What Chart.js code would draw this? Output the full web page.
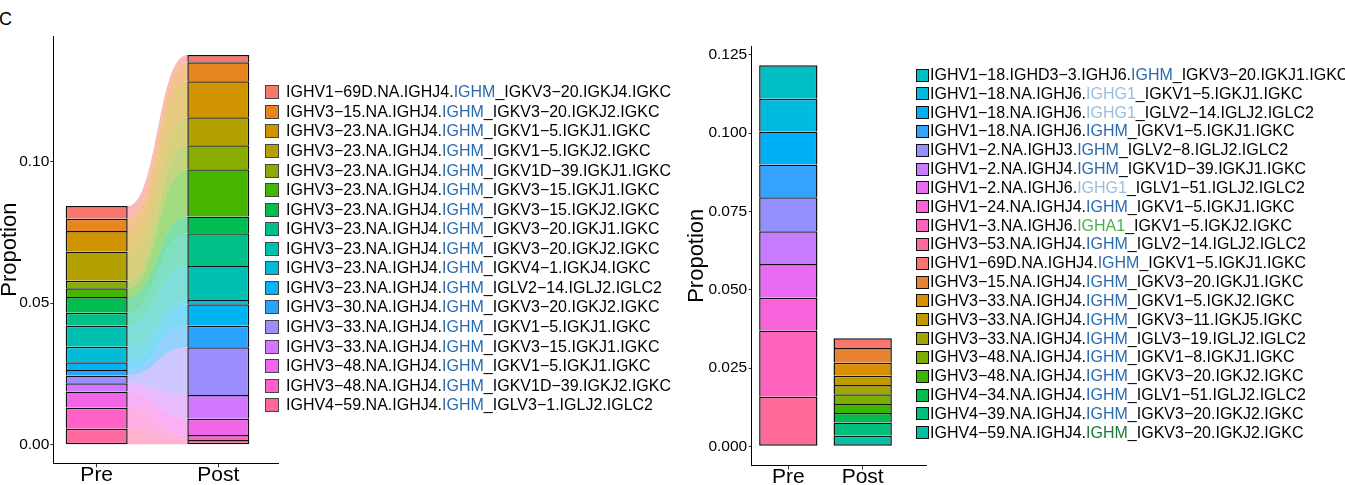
<!DOCTYPE html>
<html>
<head>
<meta charset="utf-8">
<script src="https://cdn.jsdelivr.net/npm/chart.js@4/dist/chart.umd.min.js"></script>
<style>
  html, body { margin: 0; padding: 0; background: #fff; }
  body { width: 1345px; height: 485px; position: relative; overflow: hidden;
         font-family: "Liberation Sans", Arial, sans-serif; }
  canvas { position: absolute; top: 0; }
  .lg { position: absolute; font-size: 16px; line-height: 18px; white-space: nowrap; color: #000; }
  .bx { position: absolute; box-sizing: border-box; }
  #panel { position: absolute; left: -1px; top: 8px; font-size: 18px; line-height: 22px; }
</style>
</head>
<body>
<div id="panel">C</div>
<canvas id="left" width="282" height="485" style="left:0px"></canvas>
<canvas id="right" width="250" height="485" style="left:680px"></canvas>
<div id="legends"></div>
<script>
// ---------------- DATA ----------------
const categories = ['Pre', 'Post'];

const leftLabels = [
  'IGHV1−69D.NA.IGHJ4.IGHM_IGKV3−20.IGKJ4.IGKC',
  'IGHV3−15.NA.IGHJ4.IGHM_IGKV3−20.IGKJ2.IGKC',
  'IGHV3−23.NA.IGHJ4.IGHM_IGKV1−5.IGKJ1.IGKC',
  'IGHV3−23.NA.IGHJ4.IGHM_IGKV1−5.IGKJ2.IGKC',
  'IGHV3−23.NA.IGHJ4.IGHM_IGKV1D−39.IGKJ1.IGKC',
  'IGHV3−23.NA.IGHJ4.IGHM_IGKV3−15.IGKJ1.IGKC',
  'IGHV3−23.NA.IGHJ4.IGHM_IGKV3−15.IGKJ2.IGKC',
  'IGHV3−23.NA.IGHJ4.IGHM_IGKV3−20.IGKJ1.IGKC',
  'IGHV3−23.NA.IGHJ4.IGHM_IGKV3−20.IGKJ2.IGKC',
  'IGHV3−23.NA.IGHJ4.IGHM_IGKV4−1.IGKJ4.IGKC',
  'IGHV3−23.NA.IGHJ4.IGHM_IGLV2−14.IGLJ2.IGLC2',
  'IGHV3−30.NA.IGHJ4.IGHM_IGKV3−20.IGKJ2.IGKC',
  'IGHV3−33.NA.IGHJ4.IGHM_IGKV1−5.IGKJ1.IGKC',
  'IGHV3−33.NA.IGHJ4.IGHM_IGKV3−15.IGKJ1.IGKC',
  'IGHV3−48.NA.IGHJ4.IGHM_IGKV1−5.IGKJ1.IGKC',
  'IGHV3−48.NA.IGHJ4.IGHM_IGKV1D−39.IGKJ2.IGKC',
  'IGHV4−59.NA.IGHJ4.IGHM_IGLV3−1.IGLJ2.IGLC2'
];
const leftPre  = [0.00448, 0.00434, 0.00724, 0.01031, 0.00268, 0.00307, 0.00554, 0.00459, 0.00742,
                  0.00551, 0.00272, 0.00194, 0.00275, 0.00290, 0.00572, 0.00742, 0.00565];
const leftPost = [0.00258, 0.00671, 0.01271, 0.00989, 0.00847, 0.01674, 0.00586, 0.01155, 0.01201,
                  0.00152, 0.00756, 0.00763, 0.01684, 0.00837, 0.00576, 0.00177, 0.00166];
const leftYTicks = [0, 0.05, 0.10];

const rightLabels = [
  'IGHV1−18.IGHD3−3.IGHJ6.IGHM_IGKV3−20.IGKJ1.IGKC',
  'IGHV1−18.NA.IGHJ6.IGHG1_IGKV1−5.IGKJ1.IGKC',
  'IGHV1−18.NA.IGHJ6.IGHG1_IGLV2−14.IGLJ2.IGLC2',
  'IGHV1−18.NA.IGHJ6.IGHM_IGKV1−5.IGKJ1.IGKC',
  'IGHV1−2.NA.IGHJ3.IGHM_IGLV2−8.IGLJ2.IGLC2',
  'IGHV1−2.NA.IGHJ4.IGHM_IGKV1D−39.IGKJ1.IGKC',
  'IGHV1−2.NA.IGHJ6.IGHG1_IGLV1−51.IGLJ2.IGLC2',
  'IGHV1−24.NA.IGHJ4.IGHM_IGKV1−5.IGKJ1.IGKC',
  'IGHV1−3.NA.IGHJ6.IGHA1_IGKV1−5.IGKJ2.IGKC',
  'IGHV3−53.NA.IGHJ4.IGHM_IGLV2−14.IGLJ2.IGLC2',
  'IGHV1−69D.NA.IGHJ4.IGHM_IGKV1−5.IGKJ1.IGKC',
  'IGHV3−15.NA.IGHJ4.IGHM_IGKV3−20.IGKJ1.IGKC',
  'IGHV3−33.NA.IGHJ4.IGHM_IGKV1−5.IGKJ2.IGKC',
  'IGHV3−33.NA.IGHJ4.IGHM_IGKV3−11.IGKJ5.IGKC',
  'IGHV3−33.NA.IGHJ4.IGHM_IGLV3−19.IGLJ2.IGLC2',
  'IGHV3−48.NA.IGHJ4.IGHM_IGKV1−8.IGKJ1.IGKC',
  'IGHV3−48.NA.IGHJ4.IGHM_IGKV3−20.IGKJ2.IGKC',
  'IGHV4−34.NA.IGHJ4.IGHM_IGLV1−51.IGLJ2.IGLC2',
  'IGHV4−39.NA.IGHJ4.IGHM_IGKV3−20.IGKJ2.IGKC',
  'IGHV4−59.NA.IGHJ4.IGHM_IGKV3−20.IGKJ2.IGKC'
];
const rightPre  = [0.0107, 0.0105, 0.0105, 0.0105, 0.0108, 0.0105, 0.0108, 0.0104, 0.0212, 0.0158,
                   0, 0, 0, 0, 0, 0, 0, 0, 0, 0];
const rightPost = [0, 0, 0, 0, 0, 0, 0, 0, 0, 0,
                   0.0031, 0.0047, 0.0042, 0.0029, 0.0030, 0.0031, 0.0029, 0.0030, 0.0042, 0.0034];
const rightYTicks = [0, 0.025, 0.05, 0.075, 0.1, 0.125];

// ---------------- STYLE HELPERS ----------------
function hcl(h, c, l) {
  c = c === undefined ? 100 : c; l = l === undefined ? 65 : l;
  const hr = h * Math.PI / 180;
  const u = c * Math.cos(hr), v = c * Math.sin(hr);
  const Xn = 95.047, Yn = 100, Zn = 108.883;
  const Y = l > 8 ? Yn * Math.pow((l + 16) / 116, 3) : Yn * l / 903.3;
  const den = Xn + 15 * Yn + 3 * Zn;
  const un = 4 * Xn / den, vn = 9 * Yn / den;
  const up = u / (13 * l) + un, vp = v / (13 * l) + vn;
  const X = 9 * Y * up / (4 * vp);
  const Z = -X / 3 - 5 * Y + 3 * Y / vp;
  const x = X / 100, y = Y / 100, z = Z / 100;
  const lin = [
    3.240479 * x - 1.537150 * y - 0.498535 * z,
    -0.969256 * x + 1.875992 * y + 0.041556 * z,
    0.055648 * x - 0.204043 * y + 1.057311 * z
  ];
  return lin.map(t => {
    t = t <= 0.0031308 ? 12.92 * t : 1.055 * Math.pow(t, 1 / 2.4) - 0.055;
    return Math.round(Math.max(0, Math.min(1, t)) * 255);
  });
}
const rgb = (a, al) => al === undefined ? `rgb(${a[0]},${a[1]},${a[2]})` : `rgba(${a[0]},${a[1]},${a[2]},${al})`;
const leftColors = leftLabels.map((_, i) => hcl(15 + i * 360 / leftLabels.length));
const rightColors = rightLabels.map((_, i) => hcl(15 + ((i + 10) % 20) * 18));

const isoColor = { IGHM: '#2C6AAE', IGHG1: '#9BBCDD', IGHA1: '#4DAF4A' };
const isoOverride = { 19: '#1B7837' };

// stack: first item on top, last at the bottom
function stackRanges(values) {
  const r = new Array(values.length);
  let acc = 0;
  for (let i = values.length - 1; i >= 0; i--) {
    if (values[i] > 0) { r[i] = [acc, acc + values[i]]; acc += values[i]; }
    else r[i] = null;
  }
  return r;
}

function buildDatasets(labels, pre, post, colors, barPct) {
  const sPre = stackRanges(pre), sPost = stackRanges(post);
  return labels.map((lab, i) => {
    const data = [];
    if (sPre[i]) data.push({ x: 1, y: sPre[i] });
    if (sPost[i]) data.push({ x: 2, y: sPost[i] });
    return {
      label: lab,
      data,
      backgroundColor: rgb(colors[i]),
      borderColor: '#111',
      borderWidth: 1.5,
      borderSkipped: ctx => (ctx.raw && ctx.raw.y && ctx.raw.y[0] === 0) ? false : 'start',
      grouped: false,
      barPercentage: barPct,
      categoryPercentage: 1
    };
  });
}

const flowPlugin = {
  id: 'flows',
  beforeDatasetsDraw(chart) {
    const ctx = chart.ctx;
    ctx.save();
    chart.data.datasets.forEach((ds, i) => {
      const meta = chart.getDatasetMeta(i);
      if (meta.data.length < 2) return;
      const a = meta.data[0].getProps(['x', 'y', 'base', 'width'], true);
      const b = meta.data[1].getProps(['x', 'y', 'base', 'width'], true);
      const x0 = a.x + a.width / 2, x1 = b.x - b.width / 2;
      const mx = (x0 + x1) / 2;
      ctx.beginPath();
      ctx.moveTo(x0, a.y);
      ctx.bezierCurveTo(mx, a.y, mx, b.y, x1, b.y);
      ctx.lineTo(x1, b.base);
      ctx.bezierCurveTo(mx, b.base, mx, a.base, x0, a.base);
      ctx.closePath();
      ctx.fillStyle = rgb(leftColors[i], 0.5);
      ctx.fill();
    });
    ctx.restore();
  }
};

const FONT = "'Liberation Sans', Arial, sans-serif";

function makeChart(id, datasets, cfg, plugins) {
  return new Chart(document.getElementById(id), {
    type: 'bar',
    data: { datasets },
    plugins: plugins || [],
    options: {
      responsive: false,
      animation: false,
      devicePixelRatio: 1,
      layout: { padding: { left: 0, top: cfg.padTop, right: cfg.padRight, bottom: 0 } },
      plugins: { legend: { display: false }, tooltip: { enabled: false } },
      scales: {
        x: {
          type: 'linear',
          offset: false,
          min: cfg.xMin, max: cfg.xMax,
          afterBuildTicks: s => { s.ticks = categories.map((_, i) => ({ value: i + 1 })); },
          afterFit: s => { s.height = cfg.xHeight; },
          ticks: {
            callback: v => categories[Math.round(v) - 1] || '',
            font: { family: FONT, size: 21 },
            color: '#000',
            padding: -5,
            maxRotation: 0,
            autoSkip: false
          },
          grid: { offset: false, drawOnChartArea: false, drawTicks: true, tickLength: 4, tickColor: '#333', tickWidth: 1 },
          border: { display: true, color: '#000', width: 1 }
        },
        y: {
          type: 'linear',
          min: cfg.yMin, max: cfg.yMax,
          afterBuildTicks: s => { s.ticks = cfg.yTicks.map(v => ({ value: v })); },
          afterFit: s => { s.width = cfg.yWidth; },
          ticks: {
            callback: v => v.toFixed(cfg.dec),
            font: { family: FONT, size: 15.5 },
            color: '#000',
            padding: cfg.tickPad,
            autoSkip: false
          },
          grid: { drawOnChartArea: false, drawTicks: true, tickLength: 3, tickColor: '#333', tickWidth: 1 },
          border: { display: true, color: '#000', width: 1 },
          title: {
            display: true, text: 'Propotion', color: '#000',
            font: { family: FONT, size: 22, lineHeight: 1 },
            padding: { top: cfg.titlePad, bottom: 0 }
          }
        }
      }
    }
  });
}

makeChart('left', buildDatasets(leftLabels, leftPre, leftPost, leftColors, 0.51), {
  padTop: 36, padRight: 4, xMin: 0.643, xMax: 2.491, xHeight: 21.7,
  yMin: -0.00657, yMax: 0.1443, yTicks: leftYTicks, yWidth: 53.3, dec: 2, tickPad: 1, titlePad: -1
}, [flowPlugin]);

makeChart('right', buildDatasets(rightLabels, rightPre, rightPost, rightColors, 0.784), {
  padTop: 46, padRight: 4, xMin: 0.508, xMax: 2.851, xHeight: 19.5,
  yMin: -0.00613, yMax: 0.12781, yTicks: rightYTicks, yWidth: 71.7, dec: 3, tickPad: 1.5, titlePad: 6
});

// ---------------- LEGENDS (HTML text) ----------------
function legend(labels, colors, opt) {
  const root = document.getElementById('legends');
  labels.forEach((lab, i) => {
    const cy = opt.y0 + i * opt.dy;
    const box = document.createElement('div');
    box.className = 'bx';
    box.style.cssText = `left:${opt.bx}px;top:${cy - opt.bs / 2}px;width:${opt.bs}px;height:${opt.bs}px;` +
      `background:${rgb(colors[i])};border:${opt.bw}px solid ${opt.bc};`;
    root.appendChild(box);
    const t = document.createElement('div');
    t.className = 'lg';
    t.style.left = opt.tx + 'px';
    t.style.top = (cy - 9) + 'px';
    const m = lab.match(/^(.*\.)(IGH[A-Z0-9]+)(_.*)$/);
    const s1 = document.createElement('span'); s1.textContent = m[1];
    const s2 = document.createElement('span'); s2.textContent = m[2];
    s2.style.color = (opt.override && opt.override[i]) || isoColor[m[2]] || '#000';
    const s3 = document.createElement('span'); s3.textContent = m[3];
    t.append(s1, s2, s3);
    root.appendChild(t);
  });
}
legend(leftLabels, leftColors, { y0: 92.3, dy: 19.56, bx: 265, bs: 14, bw: 1, bc: '#444', tx: 286 });
legend(rightLabels, rightColors, { y0: 75, dy: 18.83, bx: 915.5, bs: 13, bw: 1.5, bc: '#111', tx: 930, override: isoOverride });
</script>
</body>
</html>
